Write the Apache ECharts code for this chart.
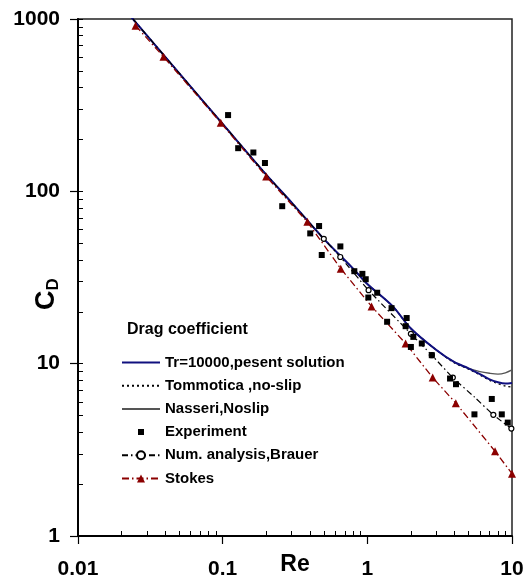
<!DOCTYPE html>
<html><head><meta charset="utf-8">
<script src="https://cdn.jsdelivr.net/npm/echarts@6.0.0/dist/echarts.min.js"></script>
<style>html,body{margin:0;padding:0;background:#fff}#c{width:525px;height:581px}</style>
</head><body><div id="c"></div>
<script>
const FONT = 'Liberation Sans, Arial, Helvetica, sans-serif';

// Axis ticks
const xMajor = [0.01, 0.1, 1, 10];
const yMajor = [1, 10, 100, 1000];
const xMinor = [0.02,0.03,0.04,0.05,0.06,0.07,0.08,0.09,0.2,0.3,0.4,0.5,0.6,0.7,0.8,0.9,2,3,4,5,6,7,8,9];
const yMinor = [2,3,4,5,6,7,8,9,20,30,40,50,60,70,80,90,200,300,400,500,600,700,800,900];

// Tr=10000, present solution
const presentRe = [0.023, 0.05, 0.1, 0.2, 0.3, 0.5, 0.8, 1, 1.5, 2, 3, 4, 5, 6, 7, 8, 9, 10];
const presentCD = [1040, 485, 246, 125, 86, 53, 35.5, 29, 21.5, 16.0, 12.0, 10.2, 9.4, 8.7, 8.1, 7.8, 7.67, 7.73];

// Tommotica, no-slip
const tomRe = [0.023, 0.05, 0.1, 0.2, 0.3, 0.5, 0.8, 1, 1.5, 2, 3, 4, 5, 6, 7, 8, 9, 10];
const tomCD = [1040, 485, 246, 125, 86, 53, 35.5, 29, 21.5, 16.0, 12.0, 10.1, 9.3, 8.6, 8.0, 7.65, 7.42, 7.3];

// Nasseri, Noslip
const nasRe = [0.023, 0.05, 0.1, 0.2, 0.3, 0.5, 0.8, 1, 1.5, 2, 3, 4, 5, 6, 7, 8, 9, 10];
const nasCD = [1040, 485, 246, 125, 86, 53, 35.5, 29, 21.5, 16.0, 12.0, 10.2, 9.4, 9.0, 8.8, 8.7, 8.85, 9.2];

// Experiment
const expRe = [0.109, 0.128, 0.163, 0.196, 0.258, 0.403, 0.464, 0.484, 0.651, 0.813, 0.924, 0.975, 1.016, 1.17, 1.37, 1.47, 1.84, 1.87, 2.0, 2.08, 2.38, 2.79, 3.73, 4.10, 5.50, 7.25, 8.5, 9.35];
const expCD = [277, 178, 168, 146, 82, 57, 62.9, 42.7, 47.9, 34.4, 33.2, 30.9, 24.2, 25.8, 17.5, 21.0, 16.5, 18.4, 12.5, 14.3, 13.1, 11.2, 8.2, 7.6, 5.08, 6.24, 5.08, 4.55];

// Num. analysis, Brauer
const brauerRe = [0.024, 0.05, 0.1, 0.2, 0.5, 0.65, 1.02, 2.0, 2.79, 3.9, 5.5, 7.43, 9.9];
const brauerCD = [1000, 485, 246, 125, 53, 41.6, 26.7, 14.9, 11.2, 8.3, 6.4, 5.05, 4.2];
const brauerMarked = [0, 0, 0, 0, 1, 1, 1, 1, 1, 1, 0, 1, 1];

// Stokes
const stokesRe = [0.025, 0.039, 0.097, 0.2, 0.385, 0.655, 1.07, 1.84, 2.83, 4.09, 7.64, 10];
const stokesCD = [915, 604, 250, 122, 66.5, 35.6, 21.5, 13.1, 8.3, 5.9, 3.1, 2.3];

const pairs = (xs, ys) => xs.map((x, i) => [x, ys[i]]);

const chart = echarts.init(document.getElementById('c'), null, {renderer: 'canvas'});

const baseLog = {type: 'log', logBase: 10, gridIndex: 0, splitLine: {show: false}, minorTick: {show: false}, minorSplitLine: {show: false}};
const noSymbol = {opacity: 0, color: 'transparent', borderWidth: 0};

chart.setOption({
  animation: false,
  backgroundColor: '#fff',
  textStyle: {fontFamily: FONT},
  title: {
    text: 'Drag coefficient', left: 122, top: 317,
    textStyle: {fontFamily: FONT, fontSize: 16, fontWeight: 'bold', color: '#000'}
  },
  grid: {left: 78, top: 19, width: 434, height: 517, show: true, borderColor: '#222', borderWidth: 1.5, backgroundColor: 'transparent', containLabel: false, outerBoundsMode: 'none'},
  legend: {
    orient: 'vertical', left: 121, top: 355, itemWidth: 38, itemHeight: 10, itemGap: 8.2, padding: 0,
    textStyle: {fontFamily: FONT, fontSize: 15, fontWeight: 'bold', color: '#000', lineHeight: 15},
    data: [
      {name: 'Tr=10000,pesent solution', itemStyle: noSymbol},
      {name: 'Tommotica ,no-slip', itemStyle: noSymbol},
      {name: 'Nasseri,Noslip', itemStyle: noSymbol},
      {name: 'Experiment', icon: 'path://M0,0L38,0L0,0Z M0,10L38,10L0,10Z M16,2L22,2L22,8L16,8Z'},
      {name: 'Num. analysis,Brauer'},
      {name: 'Stokes'}
    ]
  },
  xAxis: [
    Object.assign({}, baseLog, {
      min: 0.01, max: 10, position: 'bottom',
      name: 'Re', nameLocation: 'middle', nameGap: 17, nameMoveOverlap: false,
      nameTextStyle: {fontFamily: FONT, fontSize: 23, fontWeight: 'bold', color: '#000'},
      axisLine: {show: true, lineStyle: {color: '#000', width: 2}},
      axisTick: {show: true, inside: false, length: 8, customValues: xMajor, lineStyle: {color: '#000', width: 1.2}},
      axisLabel: {show: true, margin: 23, customValues: xMajor, formatter: v => String(v), fontFamily: FONT, fontSize: 21, fontWeight: 'bold', color: '#000'}
    }),
    Object.assign({}, baseLog, {
      min: 0.01, max: 10, position: 'bottom',
      axisLine: {show: false},
      axisTick: {show: true, inside: true, length: 5, customValues: xMinor, lineStyle: {color: '#000', width: 1}},
      axisLabel: {show: false}
    })
  ],
  yAxis: [
    Object.assign({}, baseLog, {
      min: 1, max: 1000, position: 'left',
      axisLine: {show: true, lineStyle: {color: '#000', width: 2}},
      axisTick: {show: true, inside: false, length: 8, customValues: yMajor, lineStyle: {color: '#000', width: 1.2}},
      axisLabel: {show: true, margin: 18, customValues: yMajor, formatter: v => String(v), fontFamily: FONT, fontSize: 21, fontWeight: 'bold', color: '#000'}
    }),
    Object.assign({}, baseLog, {
      min: 1, max: 1000, position: 'left',
      axisLine: {show: false},
      axisTick: {show: true, inside: true, length: 5, customValues: yMinor.concat(yMajor), lineStyle: {color: '#000', width: 1}},
      axisLabel: {show: false}
    })
  ],
  graphic: [{
    type: 'text', x: 47, y: 294, rotation: Math.PI / 2,
    style: {
      text: '{c|C}{d|D}', align: 'center', verticalAlign: 'middle',
      rich: {
        c: {fontFamily: FONT, fontSize: 27, fontWeight: 'bold', fill: '#000', lineHeight: 30},
        d: {fontFamily: FONT, fontSize: 17, fontWeight: 'bold', fill: '#000', lineHeight: 17, verticalAlign: 'bottom'}
      }
    }
  }],
  series: [
    {
      name: 'Nasseri,Noslip', type: 'line', xAxisIndex: 0, yAxisIndex: 0,
      data: pairs(nasRe, nasCD), symbol: 'none', smooth: 0.3, z: 2,
      lineStyle: {color: '#555', width: 1.3}, itemStyle: {color: '#555'}
    },
    {
      name: 'Tommotica ,no-slip', type: 'line', xAxisIndex: 0, yAxisIndex: 0,
      data: pairs(tomRe, tomCD), symbol: 'none', smooth: 0.3, z: 3,
      lineStyle: {color: '#000', width: 1.3, type: [2, 3]}, itemStyle: {color: '#000'}
    },
    {
      name: 'Tr=10000,pesent solution', type: 'line', xAxisIndex: 0, yAxisIndex: 0,
      data: pairs(presentRe, presentCD), symbol: 'none', smooth: 0.3, z: 4,
      lineStyle: {color: '#10107f', width: 2}, itemStyle: {color: '#10107f'}
    },
    {
      name: 'Num. analysis,Brauer', type: 'line', xAxisIndex: 0, yAxisIndex: 0,
      data: brauerRe.map((x, i) => brauerMarked[i] ? {value: [x, brauerCD[i]]} : {value: [x, brauerCD[i]], symbol: 'none'}),
      symbol: 'circle', symbolSize: 5, showAllSymbol: true, smooth: 0.2, z: 5,
      lineStyle: {color: '#000', width: 1.2, type: [6, 3, 1.5, 3]},
      itemStyle: {color: '#fff', borderColor: '#000', borderWidth: 1.2}
    },
    {
      name: 'Stokes', type: 'line', xAxisIndex: 0, yAxisIndex: 0,
      data: pairs(stokesRe, stokesCD), symbol: 'triangle', symbolSize: 8, showAllSymbol: true, z: 6,
      lineStyle: {color: '#8b0000', width: 1.3, type: [7, 3, 1.5, 3]},
      itemStyle: {color: '#8b0000'}
    },
    {
      name: 'Experiment', type: 'scatter', xAxisIndex: 0, yAxisIndex: 0,
      data: pairs(expRe, expCD), symbol: 'rect', symbolSize: 6, z: 7,
      itemStyle: {color: '#000', opacity: 1}
    }
  ]
});
</script>
</body></html>
